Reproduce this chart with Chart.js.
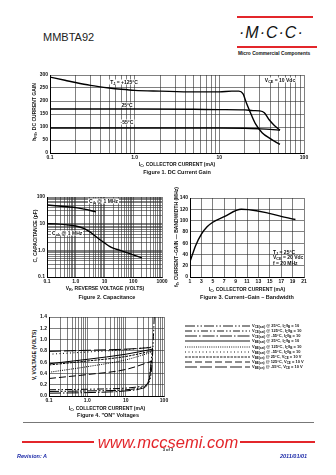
<!DOCTYPE html>
<html><head><meta charset="utf-8">
<script src="https://cdn.jsdelivr.net/npm/chart.js@4.4.0/dist/chart.umd.min.js"></script>
<style>
body{margin:0;width:336px;height:475px;background:#fff;position:relative;overflow:hidden;font-family:'Liberation Sans',Arial,sans-serif;color:#111}
canvas{position:absolute}
.t{position:absolute;white-space:nowrap;font-weight:bold;font-size:5px;line-height:1;transform:translate(-50%,-50%);z-index:2}
.l{transform:translate(0,-50%)}
.v{transform:translate(-50%,-50%) rotate(-90deg)}
.bg{background:#fff;padding:0 1px}
.bar{position:absolute;background:#e3262b}
sub{font-size:0.75em;vertical-align:-0.3em;line-height:0}
svg{position:absolute;overflow:visible}
</style></head><body>

<div class="t l" style="left:43px;top:37px;font-size:11px;font-weight:normal;color:#222">MMBTA92</div>
<div class="bar" style="left:237px;top:16px;width:76px;height:2px"></div>
<div class="t l" style="left:239px;top:33px;font-size:16px;font-weight:normal;font-style:italic;letter-spacing:1px">·M·C·C·</div>
<div class="bar" style="left:237px;top:46px;width:80px;height:2px"></div>
<div class="t l" style="left:238px;top:54px;font-size:4.8px">Micro Commercial Components</div>

<canvas id="gain" width="276" height="92" style="left:36px;top:70px"></canvas>
<canvas id="cap" width="135" height="94" style="left:35px;top:192px"></canvas>
<canvas id="ft" width="130" height="93" style="left:180px;top:193px"></canvas>
<canvas id="onv" width="135" height="93" style="left:37px;top:312px"></canvas>

<!-- figure 1 texts -->
<div class="t v" style="left:34px;top:112px">h<sub>FE</sub>, DC CURRENT GAIN</div>
<div class="t bg" style="left:124px;top:82px">T<sub>J</sub> = +125°C</div>
<div class="t bg" style="left:127px;top:105px">25°C</div>
<div class="t bg" style="left:127px;top:122px">-55°C</div>
<div class="t bg" style="left:280px;top:80px">V<sub>CE</sub> = 10 Vdc</div>
<div class="t" style="left:177px;top:164px">I<sub>C</sub>, COLLECTOR CURRENT (mA)</div>
<div class="t" style="left:177px;top:173px;font-size:5.5px">Figure 1. DC Current Gain</div>

<!-- figure 2 texts -->
<div class="t v" style="left:35px;top:236px">C, CAPACITANCE (pF)</div>
<div class="t l bg" style="left:88px;top:201px">C<sub>ib</sub> @ 1 MHz</div>
<div class="t l bg" style="left:51px;top:233px">C<sub>ob</sub> @ 1 MHz</div>
<div class="t" style="left:105px;top:288px">V<sub>R</sub>, REVERSE VOLTAGE (VOLTS)</div>
<div class="t" style="left:107px;top:298px;font-size:5.5px">Figure 2. Capacitance</div>

<!-- figure 3 texts -->
<div class="t v" style="left:176px;top:237px">f<sub>T</sub>, CURRENT–GAIN — BANDWIDTH (MHz)</div>
<div class="t l" style="left:273px;top:252px">T<sub>J</sub> = 25°C</div>
<div class="t l" style="left:273px;top:257px">V<sub>CE</sub> = 20 Vdc</div>
<div class="t l" style="left:273px;top:263px">f = 20 MHz</div>
<div class="t" style="left:247px;top:289px">I<sub>C</sub>, COLLECTOR CURRENT (mA)</div>
<div class="t" style="left:247px;top:298px;font-size:5.5px">Figure 3. Current–Gain – Bandwidth</div>

<!-- figure 4 texts -->
<div class="t v" style="left:34px;top:355px">V, VOLTAGE (VOLTS)</div>
<div class="t" style="left:107px;top:408px">I<sub>C</sub>, COLLECTOR CURRENT (mA)</div>
<div class="t" style="left:108px;top:416px;font-size:5.5px">Figure 4. "ON" Voltages</div>
<div id="legend"></div>

<!-- footer -->
<div style="position:absolute;left:23px;top:422px;width:291px;height:1px;background:#777"></div>
<div class="bar" style="left:22px;top:441px;width:72px;height:2px"></div>
<div class="bar" style="left:240px;top:441px;width:75px;height:2px"></div>
<div class="t" style="left:168px;top:442px;font-size:16.5px;font-weight:normal;font-style:italic;color:#e3262b">www.mccsemi.com</div>
<div class="t" style="left:168px;top:450px;font-size:4px">3 of 3</div>
<div class="t l" style="left:17px;top:457px;font-size:5.5px;font-style:italic;color:#1c2aa8">Revision: A</div>
<div class="t l" style="left:280px;top:457px;font-size:5.5px;font-style:italic;color:#1c2aa8">2011/01/01</div>

<script>
// Figure 1 - DC current gain
const gainX125 = [0.1, 0.15, 0.2, 0.3, 0.5, 0.7, 1, 2, 5, 10, 14, 17, 19, 21, 24, 27, 32, 40, 52];
const gainY125 = [292, 280, 271, 260, 250, 245, 241, 238, 235, 235, 238, 238, 228, 190, 145, 110, 78, 55, 33];
const gainX25 = [0.1, 0.5, 1, 5, 10, 20, 25, 30, 34, 39, 45, 52];
const gainY25 = [169, 169, 169, 168, 167, 166, 163, 162, 155, 127, 105, 88];
const gainXm55 = [0.1, 1, 10, 20, 30, 40, 52];
const gainYm55 = [96, 96, 96, 95, 93, 91, 88];
const gainTicks = [0, 50, 100, 150, 200, 250, 300];

// Figure 2 - capacitance
const cibV = [0.1, 0.2, 0.5, 1, 2, 3, 5];
const cibC = [50, 47, 43, 40, 35, 32, 28];
const cobV = [0.1, 0.2, 0.5, 1, 2, 3, 5, 7, 10, 15, 20, 30, 50, 100, 200];
const cobC = [10, 9.8, 9, 8.2, 6.5, 5, 3.3, 2.5, 1.9, 1.4, 1.2, 1.05, 0.88, 0.68, 0.52];

// Figure 3 - fT
const ftIc = [1, 2, 3, 4, 5, 7, 10, 19.5];
const ftMHz = [27, 56, 76, 89, 97, 107, 120, 102];

// Figure 4 - "ON" voltages
const onNames = [
  'V<sub>CE(sat)</sub> @ 25°C, I<sub>C</sub>/I<sub>B</sub> = 10',
  'V<sub>CE(sat)</sub> @ 125°C, I<sub>C</sub>/I<sub>B</sub> = 10',
  'V<sub>CE(sat)</sub> @ -55°C, I<sub>C</sub>/I<sub>B</sub> = 10',
  'V<sub>BE(sat)</sub> @ 25°C, I<sub>C</sub>/I<sub>B</sub> = 10',
  'V<sub>BE(sat)</sub> @ 125°C, I<sub>C</sub>/I<sub>B</sub> = 10',
  'V<sub>BE(sat)</sub> @ -55°C, I<sub>C</sub>/I<sub>B</sub> = 10',
  'V<sub>BE(on)</sub> @ 25°C, V<sub>CE</sub> = 10 V',
  'V<sub>BE(on)</sub> @ 125°C, V<sub>CE</sub> = 10 V',
  'V<sub>BE(on)</sub> @ -55°C, V<sub>CE</sub> = 10 V'
];
const onX = [
  [0.1, 1, 10, 25, 35, 42, 46, 50],
  [0.1, 1, 10, 25, 38, 46, 50, 53, 56],
  [0.1, 1, 10, 25, 35, 42, 47],
  [0.1, 1, 10, 50],
  [0.1, 1, 10, 50],
  [0.1, 1, 10, 50],
  [0.1, 1, 10, 50],
  [0.1, 1, 10, 50],
  [0.1, 1, 10, 50]
];
const onY = [
  [0.08, 0.09, 0.11, 0.15, 0.2, 0.35, 0.6, 0.85],
  [0.11, 0.12, 0.14, 0.17, 0.22, 0.4, 0.7, 1.05, 1.45],
  [0.05, 0.06, 0.09, 0.13, 0.18, 0.32, 0.62],
  [0.57, 0.65, 0.74, 0.83],
  [0.42, 0.52, 0.64, 0.78],
  [0.74, 0.78, 0.82, 0.87],
  [0.55, 0.62, 0.7, 0.8],
  [0.31, 0.38, 0.47, 0.62],
  [0.79, 0.81, 0.83, 0.86]
];
const onDash = [[10,2,1.5,2,1.5,2], [7,2,1.5,2,1.5,2], [12,2,1.5,2], [], [1,1.2], [1,2.5], [2.5,1], [7,3], [12,3]];
const voltTicks = [0, 0.2, 0.4, 0.6, 0.8, 1.0, 1.2, 1.4];

const tickFont = {family: "'Liberation Sans', Arial, sans-serif", size: 5, weight: 'bold'};

function logTicks(from, to) {
  const out = [];
  for (let d = from; d < to * 0.999; d *= 10) {
    for (let m = 1; m < 10; m++) out.push(+(m * d).toPrecision(3));
  }
  out.push(to);
  return out;
}
function decadeLabel(v) {
  const l = Math.log10(v);
  if (Math.abs(l - Math.round(l)) > 1e-6) return '';
  if (v === 0.1) return '0.1';
  if (v === 1) return '1.0';
  return String(v);
}
function pts(xs, ys) {
  return xs.map((x, i) => ({x: x, y: ys[i]}));
}
const gridStyle = {color: '#2a2a2a', lineWidth: 0.6, drawTicks: false};
const borderStyle = {display: true, color: '#000', width: 1};

function logAxis(min, max, w, h) {
  return {
    type: 'logarithmic', min: min, max: max,
    afterBuildTicks: s => { s.ticks = logTicks(min, max).map(v => ({value: v})); },
    afterFit: s => { if (w) s.width = w; if (h) s.height = h; },
    ticks: {font: tickFont, color: '#111', padding: 2, autoSkip: false, maxRotation: 0, callback: v => decadeLabel(v)},
    grid: gridStyle, border: borderStyle
  };
}
function linAxis(min, max, step, w, h, fmt) {
  return {
    type: 'linear', min: min, max: max,
    afterFit: s => { if (w) s.width = w; if (h) s.height = h; },
    ticks: {font: tickFont, color: '#111', padding: 2, stepSize: step, autoSkip: false, maxRotation: 0, callback: fmt},
    grid: gridStyle, border: borderStyle
  };
}
function line(data, dash, width) {
  return {data: data, borderColor: '#000', borderWidth: width || 1.4, borderDash: dash || [],
    pointRadius: 0, fill: false, cubicInterpolationMode: 'monotone'};
}
const baseOpts = pad => ({
  responsive: false, animation: false, events: [],
  layout: {padding: pad},
  plugins: {legend: {display: false}, tooltip: {enabled: false}}
});

new Chart(document.getElementById('gain'), {
  type: 'line',
  data: {datasets: [
    line(pts(gainX125, gainY125)),
    line(pts(gainX25, gainY25)),
    line(pts(gainXm55, gainYm55))
  ]},
  options: Object.assign(baseOpts({top: 4, right: 8, left: 0, bottom: 0}), {
    scales: {
      x: logAxis(0.1, 100, 0, 9),
      y: linAxis(0, 300, 50, 14, 0, v => gainTicks.includes(v) ? String(v) : '')
    }
  })
});

new Chart(document.getElementById('cap'), {
  type: 'line',
  data: {datasets: [
    line(pts(cibV, cibC)),
    line(pts(cobV, cobC))
  ]},
  options: Object.assign(baseOpts({top: 4, right: 8, left: 0, bottom: 0}), {
    scales: {
      x: logAxis(0.1, 1000, 0, 9),
      y: logAxis(0.1, 100, 12, 0)
    }
  })
});

new Chart(document.getElementById('ft'), {
  type: 'line',
  data: {datasets: [line(pts(ftIc, ftMHz))]},
  options: Object.assign(baseOpts({top: 4, right: 6, left: 0, bottom: 0}), {
    scales: {
      x: linAxis(1, 21, 2, 0, 9, v => String(v)),
      y: linAxis(0, 140, 20, 10, 0, v => String(v))
    }
  })
});

new Chart(document.getElementById('onv'), {
  type: 'line',
  data: {datasets: onX.map((xs, i) => line(pts(xs, onY[i]), onDash[i], 1))},
  options: Object.assign(baseOpts({top: 4, right: 8, left: 0, bottom: 0}), {
    scales: {
      x: logAxis(0.1, 100, 0, 9),
      y: linAxis(0, 1.4, 0.2, 12, 0, v => voltTicks.some(t => Math.abs(t - v) < 1e-6) ? v.toFixed(1) : '')
    }
  })
});

// legend for figure 4
const legend = document.getElementById('legend');
onNames.forEach((name, i) => {
  const y = 326 + i * 5.15;
  const svg = document.createElementNS('http://www.w3.org/2000/svg', 'svg');
  svg.setAttribute('width', '66');
  svg.setAttribute('height', '2');
  svg.style.left = '185px';
  svg.style.top = (y - 1) + 'px';
  const ln = document.createElementNS('http://www.w3.org/2000/svg', 'line');
  ln.setAttribute('x1', '0'); ln.setAttribute('x2', '65');
  ln.setAttribute('y1', '1'); ln.setAttribute('y2', '1');
  ln.setAttribute('stroke', '#000'); ln.setAttribute('stroke-width', '0.9');
  if (onDash[i].length) ln.setAttribute('stroke-dasharray', onDash[i].join(' '));
  svg.appendChild(ln);
  legend.appendChild(svg);
  const txt = document.createElement('div');
  txt.className = 't l';
  txt.style.left = '252px';
  txt.style.top = y + 'px';
  txt.style.fontSize = '4px';
  txt.innerHTML = name;
  legend.appendChild(txt);
});
</script>
</body></html>
